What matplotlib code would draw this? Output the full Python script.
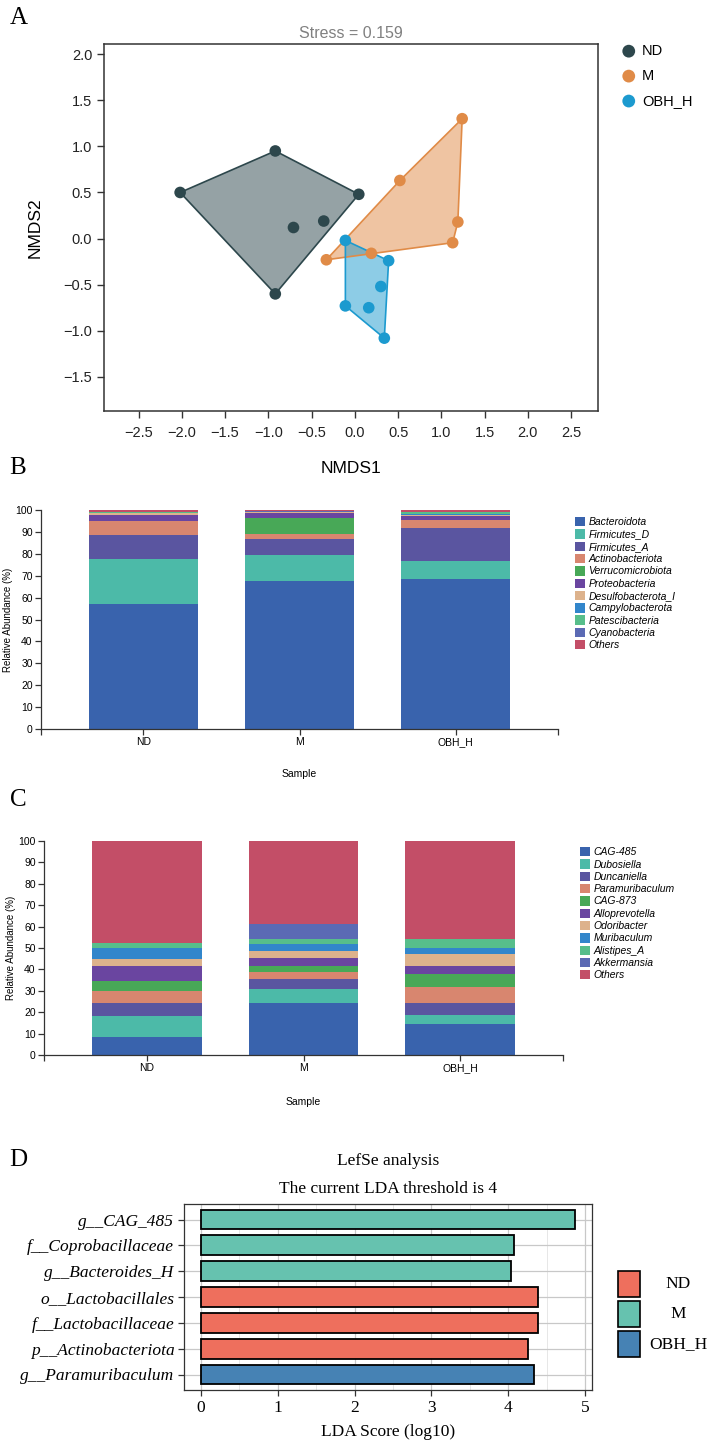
import matplotlib
matplotlib.use('Agg')
import matplotlib.pyplot as plt
import numpy as np
from matplotlib.patches import Patch, Rectangle

plt.rcParams['font.family'] = ['Liberation Sans', 'DejaVu Sans']

W, H = 709, 1447

# ---- data -------------------------------------------------------------
groups = ['ND', 'M', 'OBH_H']
group_colors = ['#2d474c', '#e08b47', '#1c9acf']

nmds_nd_x = [-2.02, -0.92, 0.045, -0.92, -0.71, -0.36]
nmds_nd_y = [0.50, 0.95, 0.48, -0.60, 0.12, 0.19]
nmds_m_x = [1.24, 0.52, 1.19, 1.13, 0.19, -0.33]
nmds_m_y = [1.30, 0.63, 0.18, -0.045, -0.16, -0.23]
nmds_obh_x = [-0.11, 0.39, 0.30, -0.11, 0.16, 0.34]
nmds_obh_y = [-0.02, -0.24, -0.52, -0.73, -0.75, -1.08]
stress = 0.159

phylum_names = ['Bacteroidota', 'Firmicutes_D', 'Firmicutes_A', 'Actinobacteriota',
                'Verrucomicrobiota', 'Proteobacteria', 'Desulfobacterota_I',
                'Campylobacterota', 'Patescibacteria', 'Cyanobacteria', 'Others']
phylum_nd = [57.1, 20.4, 11.1, 6.4, 0.1, 2.4, 1.1, 0.2, 0.3, 0.2, 0.7]
phylum_m = [67.6, 11.7, 7.5, 2.2, 7.3, 2.2, 0.4, 0.2, 0.2, 0.4, 0.3]
phylum_obh = [68.3, 8.6, 14.9, 3.6, 0.2, 1.8, 0.3, 0.5, 0.8, 0.3, 0.7]

genus_names = ['CAG-485', 'Dubosiella', 'Duncaniella', 'Paramuribaculum', 'CAG-873',
               'Alloprevotella', 'Odoribacter', 'Muribaculum', 'Alistipes_A',
               'Akkermansia', 'Others']
genus_nd = [8.5, 9.5, 6.4, 5.3, 4.9, 7.0, 3.4, 5.0, 2.5, 0.0, 47.5]
genus_m = [24.1, 6.8, 4.5, 3.3, 3.1, 3.5, 3.5, 2.9, 2.3, 7.3, 38.7]
genus_obh = [14.4, 4.4, 5.4, 7.4, 6.1, 3.8, 5.6, 2.7, 4.6, 0.0, 45.6]

stack_colors = ['#3963ad', '#4cbaa8', '#5a55a0', '#d8866f', '#48a857', '#6a45a0',
                '#ddb28c', '#3286cb', '#57be8b', '#5b6ab4', '#c34e67']

lda_features = ['g__CAG_485', 'f__Coprobacillaceae', 'g__Bacteroides_H',
                'o__Lactobacillales', 'f__Lactobacillaceae', 'p__Actinobacteriota',
                'g__Paramuribaculum']
lda_scores = [4.87, 4.07, 4.03, 4.39, 4.39, 4.26, 4.33]
lda_groups = ['M', 'M', 'M', 'ND', 'ND', 'ND', 'OBH_H']
lda_colors = {'ND': '#ee6f5d', 'M': '#66c2af', 'OBH_H': '#4682b4'}


def box(left, top, right, bottom):
    return [left / W, 1 - bottom / H, (right - left) / W, (bottom - top) / H]


def hull(xs, ys):
    pts = sorted(zip(xs, ys))

    def cross(o, a, b):
        return (a[0] - o[0]) * (b[1] - o[1]) - (a[1] - o[1]) * (b[0] - o[0])
    lower, upper = [], []
    for p in pts:
        while len(lower) >= 2 and cross(lower[-2], lower[-1], p) <= 0:
            lower.pop()
        lower.append(p)
    for p in reversed(pts):
        while len(upper) >= 2 and cross(upper[-2], upper[-1], p) <= 0:
            upper.pop()
        upper.append(p)
    return np.array(lower[:-1] + upper[:-1])


fig = plt.figure(figsize=(W / 100, H / 100), dpi=100)
panel_font = dict(family='Liberation Serif', fontsize=18)
for letter, (px, py) in zip('ABCD', [(19, 18), (18, 468), (18, 800), (18, 1160)]):
    fig.text(px / W, 1 - py / H, letter, ha='center', va='center', **panel_font)

# ---- A: NMDS ----------------------------------------------------------
ax = fig.add_axes(box(104, 44, 598, 411))
nmds = [(nmds_nd_x, nmds_nd_y), (nmds_m_x, nmds_m_y), (nmds_obh_x, nmds_obh_y)]
for (xs, ys), g, c in zip(nmds, groups, group_colors):
    h = hull(xs, ys)
    ax.fill(h[:, 0], h[:, 1], facecolor=c, alpha=0.5, edgecolor='none', zorder=1)
    ax.fill(h[:, 0], h[:, 1], facecolor='none', edgecolor=c, lw=1.2, zorder=2)
for (xs, ys), g, c in zip(nmds, groups, group_colors):
    ax.scatter(xs, ys, s=70, color=c, zorder=3, label=g, edgecolors='none')
ax.set_xlim(-2.9, 2.81)
ax.set_ylim(-1.87, 2.11)
ax.set_xticks(np.arange(-2.5, 2.51, 0.5))
ax.set_yticks(np.arange(-1.5, 2.01, 0.5))
ax.tick_params(labelsize=10.5, length=5, width=1, color='#333333', labelcolor='#222222')
ax.tick_params(axis='x', pad=6)
for s in ax.spines.values():
    s.set_color('#333333')
    s.set_linewidth(1.1)
ax.set_title(f'Stress = {stress}', color='#808080', fontsize=11.5, pad=4)
ax.set_xlabel('NMDS1', fontsize=12.5)
ax.set_ylabel('NMDS2', fontsize=12.5)
ax.xaxis.set_label_coords(0.5, -(461 - 411) / 367)
ax.yaxis.set_label_coords((43 - 104) / 494, 0.5)
ax.legend(loc='upper left', bbox_to_anchor=(620 / W, 1 - 44 / H),
          bbox_transform=fig.transFigure, frameon=False, fontsize=10.5,
          markerscale=1.1, handletextpad=0.3, labelspacing=0.75,
          borderpad=0, borderaxespad=0, handlelength=1.2)


# ---- B/C: stacked bars ------------------------------------------------
def stacked(ax_box, series, names, leg_anchor, label_x, sample_y):
    ax = fig.add_axes(ax_box)
    vals = np.array(series)
    xpos = np.arange(len(groups))
    bottom = np.zeros(len(groups))
    handles = []
    for j, name in enumerate(names):
        ax.bar(xpos, vals[:, j], bottom=bottom, width=0.70,
               color=stack_colors[j], linewidth=0)
        bottom += vals[:, j]
        handles.append(Patch(facecolor=stack_colors[j], label=name))
    ax.set_xlim(-0.655, 2.655)
    ax.set_ylim(0, 100)
    ax.set_xticks(xpos)
    ax.set_xticklabels(groups)
    ax.set_xticks([-0.655, 2.655], minor=True)
    ax.set_yticks(np.arange(0, 101, 10))
    ax.tick_params(labelsize=7.5, length=4, width=0.9, color='#333333', pad=2)
    ax.tick_params(which='minor', length=4, width=0.9, color='#333333')
    for k in ['top', 'right']:
        ax.spines[k].set_visible(False)
    for k in ['left', 'bottom']:
        ax.spines[k].set_color('#333333')
        ax.spines[k].set_linewidth(0.9)
    ax.set_ylabel('Relative Abundance (%)', fontsize=7)
    ax.set_xlabel('Sample', fontsize=7.5)
    ax.yaxis.set_label_coords(label_x, 0.5)
    ax.xaxis.set_label_coords(0.5, sample_y)
    ax.legend(handles=handles, loc='upper left', bbox_to_anchor=leg_anchor,
              bbox_transform=fig.transFigure, frameon=False,
              prop=dict(family='Liberation Sans', style='italic', size=7.5),
              handlelength=1.0, handleheight=1.0, handletextpad=0.3,
              labelspacing=0.2, borderpad=0, borderaxespad=0)
    return ax


stacked(box(41, 510, 558, 729), [phylum_nd, phylum_m, phylum_obh], phylum_names,
        (575 / W, 1 - 517 / H), (13 - 41) / 517, -(769 - 729) / 219)
stacked(box(44, 841, 563, 1055), [genus_nd, genus_m, genus_obh], genus_names,
        (580 / W, 1 - 847 / H), (16 - 44) / 519, -(1097 - 1055) / 214)

# ---- D: LEfSe ---------------------------------------------------------
serif = 'Liberation Serif'
ax = fig.add_axes(box(184, 1204, 592, 1390))
ypos = np.arange(len(lda_features))[::-1]
ax.barh(ypos, lda_scores, height=0.77, color=[lda_colors[g] for g in lda_groups],
        edgecolor='black', linewidth=1.3, zorder=3)
ax.set_xlim(-0.22, 5.09)
ax.set_ylim(-0.6, 6.6)
ax.set_xticks(range(6))
ax.set_xticks(np.arange(0.5, 5, 1), minor=True)
ax.set_yticks(ypos)
ax.set_yticklabels(lda_features, family=serif, style='italic', fontsize=12.5)
for t in ax.get_xticklabels():
    t.set_family(serif)
    t.set_fontsize(12.5)
ax.grid(which='major', color='#c8c8c8', lw=0.9, zorder=0)
ax.grid(which='minor', axis='x', color='#e3e3e3', lw=0.6, zorder=0)
ax.tick_params(length=4, width=0.9, color='#333333', pad=3)
ax.tick_params(which='minor', length=0)
for s in ax.spines.values():
    s.set_color('#333333')
    s.set_linewidth(0.9)
ax.set_xlabel('LDA Score (log10)', family=serif, fontsize=12.5)
ax.xaxis.set_label_coords(0.5, -(1424 - 1390) / 186)
ax.set_title('LefSe analysis\nThe current LDA threshold is 4', family=serif,
             fontsize=12.5, linespacing=1.95, pad=8)

# legend D drawn as keys in figure pixels
for i, g in enumerate(groups):
    top = 1271 + 30 * i
    fig.add_artist(Rectangle((618 / W, 1 - (top + 26) / H), 22 / W, 26 / H,
                             transform=fig.transFigure, facecolor=lda_colors[g],
                             edgecolor='black', linewidth=1.2))
    fig.text(678 / W, 1 - (top + 13) / H, g, ha='center', va='center',
             family=serif, fontsize=12.5)

fig.savefig('out.png', dpi=100)
